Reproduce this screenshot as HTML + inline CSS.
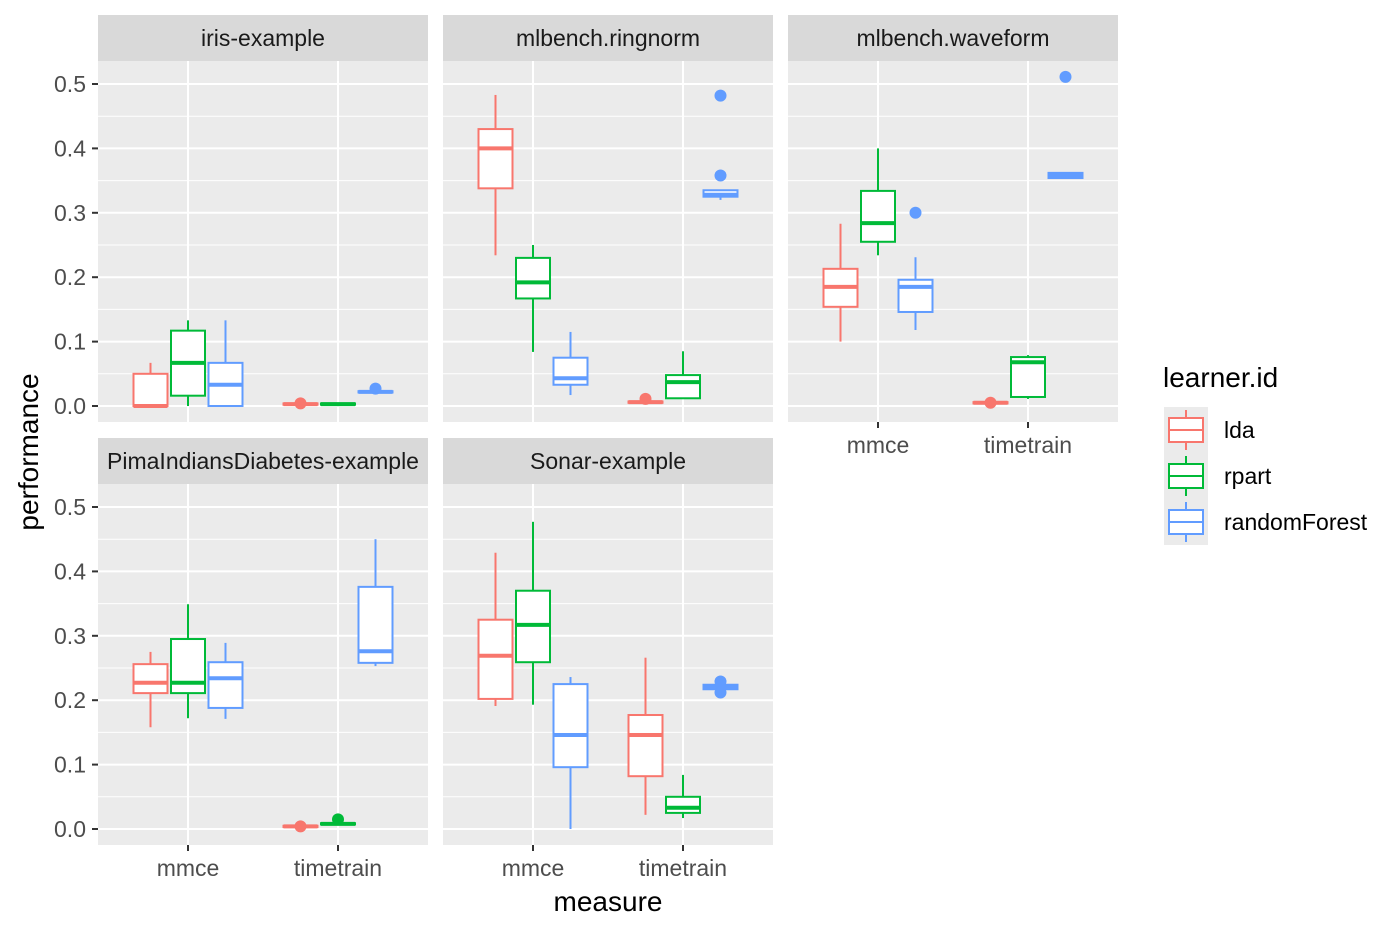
<!DOCTYPE html>
<html><head><meta charset="utf-8"><style>
html,body{margin:0;padding:0;background:#fff;}
svg{display:block;font-family:"Liberation Sans",sans-serif;}
</style></head><body>
<svg id="chart" width="1400" height="933" viewBox="0 0 1400 933" xmlns="http://www.w3.org/2000/svg"></svg>
<script>
// ---- data ----
const panelNames = ["iris-example","mlbench.ringnorm","mlbench.waveform","PimaIndiansDiabetes-example","Sonar-example"];
const measures = ["mmce","timetrain"];
const learners = ["lda","rpart","randomForest"];
const yTicks = [0,0.1,0.2,0.3,0.4,0.5];
// each stat: [low, q1, median, q3, high]; index [panel][measure][learner]
const stats = [
 [[[0,0,0,0.05,0.067],[0,0.016,0.067,0.117,0.133],[0,0,0.033,0.067,0.133]],
  [[0.002,0.002,0.003,0.004,0.004],[0.002,0.002,0.003,0.004,0.004],[0.021,0.021,0.022,0.023,0.023]]],
 [[[0.234,0.338,0.40,0.43,0.483],[0.084,0.167,0.192,0.23,0.25],[0.017,0.033,0.043,0.075,0.115]],
  [[0.005,0.005,0.006,0.007,0.007],[0.012,0.012,0.037,0.048,0.085],[0.32,0.325,0.328,0.335,0.335]]],
 [[[0.1,0.154,0.185,0.213,0.283],[0.234,0.255,0.284,0.334,0.4],[0.118,0.146,0.185,0.196,0.231]],
  [[0.004,0.004,0.005,0.006,0.006],[0.011,0.014,0.068,0.076,0.079],[0.354,0.354,0.358,0.362,0.362]]],
 [[[0.158,0.211,0.227,0.256,0.275],[0.172,0.211,0.227,0.295,0.349],[0.171,0.188,0.234,0.259,0.289]],
  [[0.003,0.003,0.004,0.005,0.005],[0.007,0.007,0.008,0.009,0.009],[0.253,0.258,0.276,0.376,0.45]]],
 [[[0.191,0.202,0.269,0.325,0.429],[0.193,0.259,0.317,0.37,0.477],[0,0.096,0.146,0.225,0.236]],
  [[0.022,0.082,0.146,0.177,0.266],[0.017,0.025,0.033,0.05,0.084],[0.217,0.217,0.22,0.224,0.224]]]
];
// outliers: [panel, measure, learner, value]
const outliers = [
 [0,1,0,0.004],[0,1,2,0.027],
 [1,1,0,0.011],[1,1,2,0.358],[1,1,2,0.482],
 [2,0,2,0.3],[2,1,0,0.005],[2,1,2,0.511],
 [3,1,0,0.004],[3,1,1,0.015],
 [4,1,2,0.229],[4,1,2,0.212]
];
const colors = ["#F8766D","#00BA38","#619CFF"];

// ---- layout ----
const svg = document.getElementById('chart');
const NS = "http://www.w3.org/2000/svg";
function el(tag, attrs, parent){ const e=document.createElementNS(NS,tag); for(const k in attrs) e.setAttribute(k,attrs[k]); (parent||svg).appendChild(e); return e; }
const panelX = [98,443,788];
const PW = 330;
const rowTop = [15,438];
const STRIP = 46, PH = 361;
const measureOffset = [90,240];
const dodge = [-37.5,0,37.5];
const BW = 34;
function yScale(row, v){ const base = row===0?406:829; return base - v*644; }

panelNames.forEach((name,p)=>{
  const row = p<3?0:1, col = p%3;
  const x0 = panelX[col], top = rowTop[row];
  const g = el('g',{});
  
  
  const strip = el('rect',{x:x0,y:top,width:PW,height:STRIP,fill:'#D9D9D9'},g);
  
  
  const st = el('text',{x:x0+PW/2,y:top+31,'text-anchor':'middle','font-size':23,fill:'#1A1A1A'},g);
  st.textContent=name;
  
  
  const py = top+STRIP;
  const bg = el('rect',{x:x0,y:py,width:PW,height:PH,fill:'#EBEBEB'},g);
  
  
  for(let i=0;i<yTicks.length-1;i++){
    const v=(yTicks[i]+yTicks[i+1])/2, y=yScale(row,v);
    el('line',{x1:x0,x2:x0+PW,y1:y,y2:y,stroke:'#fff','stroke-width':1},g);
  }
  yTicks.forEach(v=>{ const y=yScale(row,v); el('line',{x1:x0,x2:x0+PW,y1:y,y2:y,stroke:'#fff','stroke-width':2},g); });
  measures.forEach((m,mi)=>{ const x=x0+measureOffset[mi]; el('line',{x1:x,x2:x,y1:py,y2:py+PH,stroke:'#fff','stroke-width':2},g); });
  measures.forEach((m,mi)=>{
    learners.forEach((l,li)=>{
      const s=stats[p][mi][li]; const cx=x0+measureOffset[mi]+dodge[li]; const c=colors[li];
      const bx = el('g',{},g);
      
      
      el('line',{x1:cx,x2:cx,y1:yScale(row,s[0]),y2:yScale(row,s[1]),stroke:c,'stroke-width':2},bx);
      el('line',{x1:cx,x2:cx,y1:yScale(row,s[3]),y2:yScale(row,s[4]),stroke:c,'stroke-width':2},bx);
      const yq3=yScale(row,s[3]), yq1=yScale(row,s[1]);
      el('rect',{x:cx-BW/2,y:yq3,width:BW,height:Math.max(yq1-yq3,0.5),fill:'#fff',stroke:c,'stroke-width':2},bx);
      el('line',{x1:cx-BW/2,x2:cx+BW/2,y1:yScale(row,s[2]),y2:yScale(row,s[2]),stroke:c,'stroke-width':4},bx);
    });
  });
  outliers.filter(o=>o[0]===p).forEach(o=>{
    const cx=x0+measureOffset[o[1]]+dodge[o[2]];
    const d=el('circle',{cx:cx,cy:yScale(row,o[3]),r:6,fill:colors[o[2]]},g);
    
    
  });
  if(col===0){
    yTicks.forEach(v=>{ const y=yScale(row,v);
      el('line',{x1:92,x2:98,y1:y,y2:y,stroke:'#333','stroke-width':2});
      const t=el('text',{x:86,y:y+8,'text-anchor':'end','font-size':23,fill:'#4D4D4D'});
      t.textContent=v.toFixed(1);
      
      
    });
  }
  if(row===1 || col===2){
    const by=py+PH;
    measures.forEach((m,mi)=>{ const x=x0+measureOffset[mi];
      el('line',{x1:x,x2:x,y1:by,y2:by+6,stroke:'#333','stroke-width':2});
      const t=el('text',{x:x,y:by+31,'text-anchor':'middle','font-size':23,fill:'#4D4D4D'});
      t.textContent=m;
      
      
    });
  }
});
</script>
<svg style="position:absolute;left:0;top:0" width="1400" height="933">
  <text transform="translate(38,452) rotate(-90)" text-anchor="middle" font-size="28" fill="#000" font-family="Liberation Sans, sans-serif">performance</text>
  <text x="608" y="911" text-anchor="middle" font-size="28" fill="#000" font-family="Liberation Sans, sans-serif">measure</text>
  <g font-family="Liberation Sans, sans-serif">
    <text x="1163" y="387" font-size="28">learner.id</text>
    <g>
      <rect x="1164" y="407" width="44" height="46" fill="#EBEBEB"/>
      <line x1="1186" x2="1186" y1="410" y2="450" stroke="#F8766D" stroke-width="2"/>
      <rect x="1169" y="418" width="34" height="24" fill="#fff" stroke="#F8766D" stroke-width="2"/>
      <line x1="1169" x2="1203" y1="430" y2="430" stroke="#F8766D" stroke-width="2"/>
      <text x="1224" y="438" font-size="23">lda</text>
    </g>
    <g>
      <rect x="1164" y="453" width="44" height="46" fill="#EBEBEB"/>
      <line x1="1186" x2="1186" y1="456" y2="496" stroke="#00BA38" stroke-width="2"/>
      <rect x="1169" y="464" width="34" height="24" fill="#fff" stroke="#00BA38" stroke-width="2"/>
      <line x1="1169" x2="1203" y1="476" y2="476" stroke="#00BA38" stroke-width="2"/>
      <text x="1224" y="484" font-size="23">rpart</text>
    </g>
    <g>
      <rect x="1164" y="499" width="44" height="46" fill="#EBEBEB"/>
      <line x1="1186" x2="1186" y1="502" y2="542" stroke="#619CFF" stroke-width="2"/>
      <rect x="1169" y="510" width="34" height="24" fill="#fff" stroke="#619CFF" stroke-width="2"/>
      <line x1="1169" x2="1203" y1="522" y2="522" stroke="#619CFF" stroke-width="2"/>
      <text x="1224" y="530" font-size="23">randomForest</text>
    </g>
  </g>
</svg>
</body></html>
